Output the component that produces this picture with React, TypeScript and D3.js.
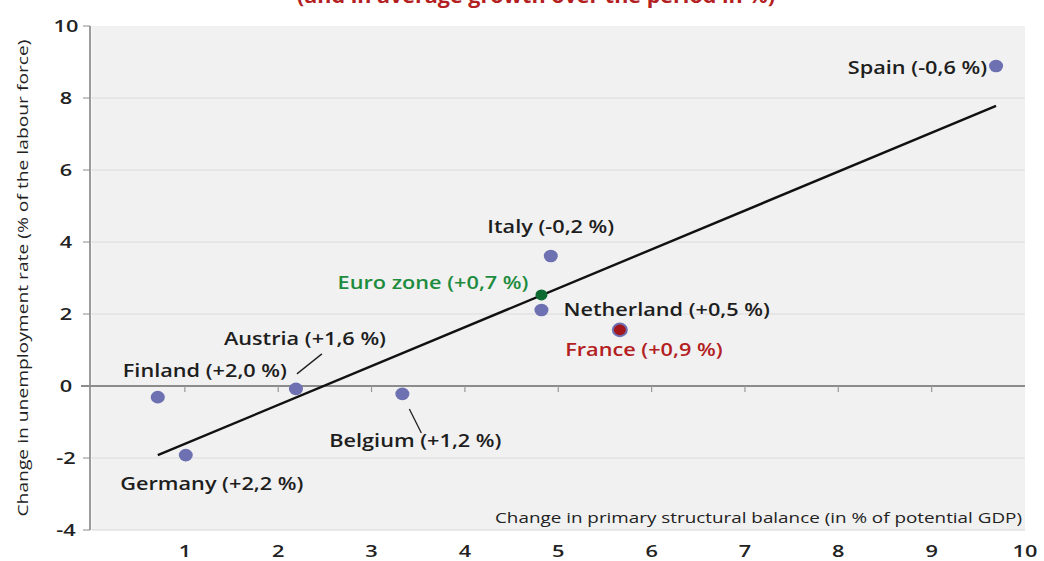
import React from 'react';
import * as d3 from 'd3';

// Change in primary structural balance vs change in unemployment rate
const countries = ['Spain', 'Italy', 'Euro zone', 'Netherland', 'France', 'Austria', 'Finland', 'Belgium', 'Germany'];
const balanceChange = [9.69, 4.92, 4.82, 4.82, 5.66, 2.19, 0.71, 3.33, 1.01];
const unemploymentChange = [8.89, 3.61, 2.53, 2.11, 1.56, -0.08, -0.31, -0.22, -1.92];
const growthLabels = ['-0,6', '-0,2', '+0,7', '+0,5', '+0,9', '+1,6', '+2,0', '+1,2', '+2,2'];

// fitted line end points (x, y)
const trendX = [0.71, 9.69];
const trendY = [-1.92, 7.78];

const xTicks = [1, 2, 3, 4, 5, 6, 7, 8, 9, 10];
const yTicks = [10, 8, 6, 4, 2, 0, -2, -4];

const TITLE = '(and in average growth over the period in %)';
const X_TITLE = 'Change in primary structural balance (in % of potential GDP)';
const Y_TITLE = 'Change in unemployment rate (% of the labour force)';

// label placement relative to each dot (pixels)
const labelLayout: Record<string, { dx: number; dy: number; anchor: string; leader?: number[] }> = {
  Spain: { dx: -9, dy: 2, anchor: 'end' },
  Italy: { dx: 0, dy: -29, anchor: 'middle' },
  'Euro zone': { dx: -13, dy: -12, anchor: 'end' },
  Netherland: { dx: 22, dy: 0, anchor: 'start' },
  France: { dx: 24, dy: 20, anchor: 'middle' },
  Austria: { dx: 9, dy: -50, anchor: 'middle', leader: [26, -35, 1, -15] },
  Finland: { dx: -35, dy: -26, anchor: 'start' },
  Belgium: { dx: 13, dy: 47, anchor: 'middle', leader: [7, 15, 19, 39] },
  Germany: { dx: 26, dy: 29, anchor: 'middle' },
};

const DOT = '#6d70b1';
const labelColor = (c: string) => (c === 'Euro zone' ? '#1e8c3e' : c === 'France' ? '#b3201f' : '#1e1e1e');

const FONT = "'Open Sans', 'Noto Sans', sans-serif";

// text drawn wider than the font, like the reference
const Wide = ({ x, y, k, children, ...rest }: any) => (
  <g transform={`translate(${x},${y}) scale(${k},1)`}>
    <text dy="0.35em" {...rest}>{children}</text>
  </g>
);

export default function App() {
  const width = 1044;
  const height = 561;
  const x = d3.scaleLinear().domain([0, 10]).range([91.5, 1025]);
  const y = d3.scaleLinear().domain([-4, 10]).range([530, 26]);

  const trend = d3.line<number>()
    .x((d) => x(trendX[d]))
    .y((d) => y(trendY[d]))([0, 1]);

  return (
    <svg
      width={width}
      height={height}
      style={{ position: 'absolute', left: 0, top: 0, background: '#fff' }}
      fontFamily={FONT}
    >
      <text x={536} y={3} textAnchor="middle" fontSize={19} fontWeight={700} fill="#b3201f"
        textLength={478} lengthAdjust="spacingAndGlyphs">
        {TITLE}
      </text>

      {/* plot background */}
      <rect x={x(0)} y={y(10)} width={x(10) - x(0)} height={y(-4) - y(10)} fill="#f1f1f1" />

      {/* grid */}
      {yTicks.filter((t) => t !== 0 && t !== 10).map((t) => (
        <line key={t} x1={x(0)} x2={x(10)} y1={y(t)} y2={y(t)} stroke="#e2e2e2" strokeWidth={1.5} />
      ))}

      {/* y axis */}
      <line x1={90} x2={90} y1={y(10)} y2={y(-4)} stroke="#7a7a7a" strokeWidth={1.5} />
      {yTicks.map((t) => (
        <g key={t}>
          <line x1={83} x2={90} y1={y(t)} y2={y(t)} stroke="#8a8a8a" strokeWidth={1} />
          <Wide x={66} y={y(t)} k={1.28} textAnchor="middle" fontSize={17} fontWeight={600} fill="#222">
            {t}
          </Wide>
        </g>
      ))}

      {/* zero line and x ticks */}
      <line x1={81} x2={x(10)} y1={y(0)} y2={y(0)} stroke="#8c8c8c" strokeWidth={2} />
      {xTicks.map((t) => (
        <g key={t}>
          {t < 10 && <line x1={x(t)} x2={x(t)} y1={y(0)} y2={y(0) + 6} stroke="#9a9a9a" strokeWidth={1.2} />}
          <Wide x={x(t)} y={551} k={1.28} textAnchor="middle" fontSize={17} fontWeight={600} fill="#222">
            {t}
          </Wide>
        </g>
      ))}

      {/* axis titles */}
      <text x={1022} y={518} dy="0.35em" textAnchor="end" fontSize={15} fill="#222"
        textLength={527} lengthAdjust="spacingAndGlyphs">
        {X_TITLE}
      </text>
      <text transform={`translate(23, 278) rotate(-90)`} dy="0.35em" textAnchor="middle" fontSize={15} fill="#222"
        textLength={477} lengthAdjust="spacingAndGlyphs">
        {Y_TITLE}
      </text>

      {/* trend line */}
      <path d={trend || ''} fill="none" stroke="#111" strokeWidth={2.4} />

      {/* points and labels */}
      {countries.map((c, i) => {
        const px = x(balanceChange[i]);
        const py = y(unemploymentChange[i]);
        const l = labelLayout[c];
        const fill = c === 'Euro zone' ? '#0d6a31' : c === 'France' ? '#a3161c' : DOT;
        return (
          <g key={c}>
            {l.leader && (
              <line x1={px + l.leader[0]} y1={py + l.leader[1]} x2={px + l.leader[2]} y2={py + l.leader[3]}
                stroke="#222" strokeWidth={1.3} />
            )}
            <ellipse cx={px} cy={py} rx={c === 'Euro zone' ? 6 : 7} ry={c === 'Euro zone' ? 5.5 : 6.3}
              fill={fill} stroke={c === 'France' ? DOT : 'none'} strokeWidth={c === 'France' ? 2 : 0} />
            <Wide x={px + l.dx} y={py + l.dy} k={1.24} textAnchor={l.anchor} fontSize={17.5} fontWeight={600}
              fill={labelColor(c)}>
              {`${c} (${growthLabels[i]} %)`}
            </Wide>
          </g>
        );
      })}
    </svg>
  );
}
